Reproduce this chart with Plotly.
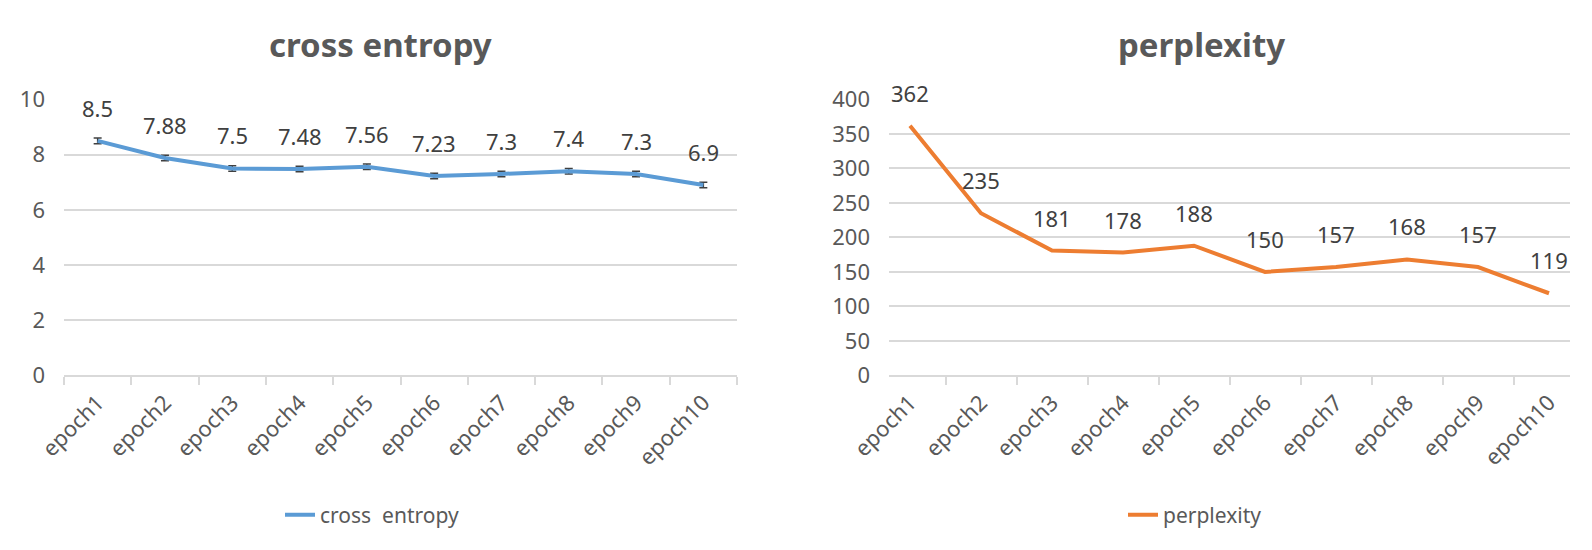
import plotly.graph_objects as go

epochs = ["epoch1", "epoch2", "epoch3", "epoch4", "epoch5", "epoch6", "epoch7", "epoch8", "epoch9", "epoch10"]
cross_entropy = [8.5, 7.88, 7.5, 7.48, 7.56, 7.23, 7.3, 7.4, 7.3, 6.9]
ce_error = [0.1, 0.1, 0.1, 0.1, 0.1, 0.1, 0.1, 0.1, 0.1, 0.1]
perplexity = [362, 235, 181, 178, 188, 150, 157, 168, 157, 119]
ce_labels = ["8.5", "7.88", "7.5", "7.48", "7.56", "7.23", "7.3", "7.4", "7.3", "6.9"]
pp_labels = ["362", "235", "181", "178", "188", "150", "157", "168", "157", "119"]

FONT = "Noto Sans"
GRAY = "#595959"
BLUE = "#5B9BD5"
ORANGE = "#ED7D31"

fig = go.Figure()
fig.add_trace(go.Scatter(
    x=epochs, y=cross_entropy, mode="lines", name="cross  entropy",
    line=dict(color=BLUE, width=4),
    error_y=dict(type="data", array=ce_error, visible=True, color="#404040", thickness=1.5, width=4),
    xaxis="x", yaxis="y", legend="legend"))
fig.add_trace(go.Scatter(
    x=epochs, y=perplexity, mode="lines", name="perplexity",
    line=dict(color=ORANGE, width=4),
    xaxis="x2", yaxis="y2", legend="legend2"))

annotations = []
for e, v, t in zip(epochs, cross_entropy, ce_labels):
    annotations.append(dict(x=e, y=v, xref="x", yref="y", text=t, showarrow=False,
                            yshift=33, font=dict(family=FONT, size=22, color="#404040")))
for e, v, t in zip(epochs, perplexity, pp_labels):
    annotations.append(dict(x=e, y=v, xref="x2", yref="y2", text=t, showarrow=False,
                            yshift=33, font=dict(family=FONT, size=22, color="#404040")))
annotations.append(dict(x=380/1592, y=1-45/550, xref="paper", yref="paper", text="<b>cross entropy</b>",
                        showarrow=False, xanchor="center", yanchor="middle",
                        font=dict(family=FONT, size=33, color=GRAY)))
annotations.append(dict(x=1201/1592, y=1-45/550, xref="paper", yref="paper", text="<b>perplexity</b>",
                        showarrow=False, xanchor="center", yanchor="middle",
                        font=dict(family=FONT, size=33, color=GRAY)))

xcommon = dict(type="category", showgrid=False, showline=True, linecolor="#D9D9D9", linewidth=1.5,
               ticks="outside", tickson="boundaries", ticklen=8, tickcolor="#D9D9D9", tickwidth=1.5,
               tickangle=-45, tickfont=dict(family=FONT, size=22, color=GRAY), zeroline=False,
               ticklabelstandoff=4, automargin=False)
ycommon = dict(showgrid=True, gridcolor="#D9D9D9", gridwidth=1.5, zeroline=False, showline=False,
               ticks="", tickfont=dict(family=FONT, size=22, color=GRAY), ticklabelstandoff=18,
               automargin=False)

ydom = [1-375.3/550, 1-99.5/550]
fig.update_layout(
    width=1592, height=550,
    margin=dict(l=0, r=0, t=0, b=0, autoexpand=False),
    paper_bgcolor="white", plot_bgcolor="white",
    xaxis=dict(domain=[64/1592, 737/1592], anchor="y", **xcommon),
    yaxis=dict(domain=ydom, range=[0, 10], dtick=2, anchor="x", **ycommon),
    xaxis2=dict(domain=[889/1592, 1570/1592], anchor="y2", **xcommon),
    yaxis2=dict(domain=ydom, range=[0, 400], dtick=50, anchor="x2", **ycommon),
    legend=dict(x=280/1592, y=1-515/550, xanchor="left", yanchor="middle", orientation="h",
                font=dict(family=FONT, size=21, color=GRAY), bgcolor="rgba(0,0,0,0)"),
    legend2=dict(x=1123/1592, y=1-515/550, xanchor="left", yanchor="middle", orientation="h",
                 font=dict(family=FONT, size=21, color=GRAY), bgcolor="rgba(0,0,0,0)"),
    annotations=annotations,
    showlegend=True,
)

fig.write_html("out.html")
